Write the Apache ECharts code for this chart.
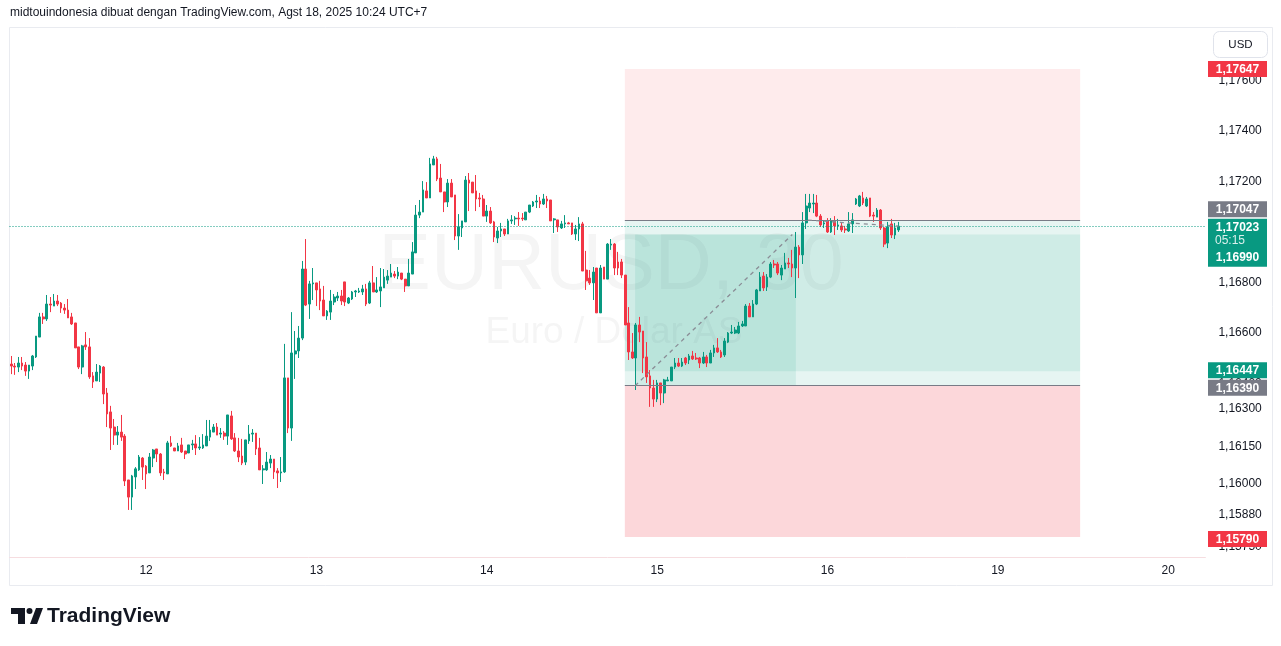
<!DOCTYPE html>
<html><head><meta charset="utf-8">
<script src="https://cdn.jsdelivr.net/npm/echarts@6/dist/echarts.min.js"></script>
<style>html,body{margin:0;padding:0;background:#fff;}#c{width:1281px;height:646px;}</style>
</head><body><div id="c"></div>
<script>
// ---------- data (EURUSD 30m) ----------
const opens = [1.16476,1.16468,1.16464,1.16480,1.16472,1.16448,1.16468,1.16504,1.16583,1.16663,1.16655,1.16714,1.16706,1.16726,1.16718,1.16698,1.16690,1.16663,1.16639,1.16544,1.16464,1.16552,1.16544,1.16429,1.16409,1.16440,1.16464,1.16361,1.16286,1.16226,1.16194,1.16206,1.16190,1.16016,1.15948,1.16028,1.16056,1.16103,1.16071,1.16044,1.16103,1.16139,1.16119,1.16048,1.16040,1.16163,1.16143,1.16131,1.16155,1.16131,1.16123,1.16155,1.16159,1.16143,1.16143,1.16151,1.16186,1.16206,1.16226,1.16198,1.16202,1.16190,1.16270,1.16183,1.16131,1.16111,1.16087,1.16171,1.16198,1.16202,1.16143,1.16056,1.16056,1.16083,1.16099,1.16052,1.16044,1.16048,1.16421,1.16222,1.16516,1.16528,1.16579,1.16853,1.16714,1.16794,1.16798,1.16774,1.16730,1.16667,1.16682,1.16722,1.16738,1.16746,1.16802,1.16718,1.16734,1.16762,1.16762,1.16762,1.16774,1.16718,1.16798,1.16762,1.16766,1.16778,1.16809,1.16821,1.16833,1.16825,1.16837,1.16813,1.16786,1.16833,1.16917,1.17067,1.17079,1.17163,1.17135,1.17266,1.17290,1.17214,1.17159,1.17119,1.17194,1.17147,1.16984,1.17016,1.17040,1.17206,1.17198,1.17163,1.17135,1.17131,1.17063,1.17083,1.17040,1.16976,1.17004,1.17012,1.16992,1.17044,1.17052,1.17055,1.17055,1.17048,1.17079,1.17103,1.17119,1.17123,1.17111,1.17131,1.17127,1.17048,1.17048,1.17016,1.17032,1.17036,1.17036,1.16992,1.17012,1.17032,1.16849,1.16817,1.16798,1.16857,1.16679,1.16861,1.16813,1.16948,1.16952,1.16881,1.16881,1.16829,1.16639,1.16524,1.16500,1.16631,1.16607,1.16504,1.16429,1.16381,1.16337,1.16401,1.16361,1.16409,1.16409,1.16464,1.16480,1.16468,1.16500,1.16492,1.16508,1.16500,1.16500,1.16480,1.16504,1.16480,1.16520,1.16540,1.16524,1.16512,1.16563,1.16599,1.16599,1.16599,1.16627,1.16627,1.16706,1.16663,1.16714,1.16766,1.16825,1.16782,1.16821,1.16873,1.16873,1.16829,1.16853,1.16877,1.16873,1.16857,1.16940,1.16909,1.17036,1.17095,1.17111,1.17115,1.17063,1.17032,1.17044,1.17000,1.17044,1.17024,1.17024,1.17012,1.17004,1.17032,1.17111,1.17103,1.17135,1.17103,1.17135,1.17067,1.17059,1.17087,1.17016,1.16956,1.17032,1.16988,1.17008];
const closes = [1.16468,1.16464,1.16480,1.16468,1.16448,1.16472,1.16508,1.16587,1.16663,1.16655,1.16714,1.16710,1.16726,1.16714,1.16698,1.16690,1.16659,1.16635,1.16540,1.16464,1.16548,1.16544,1.16425,1.16405,1.16444,1.16468,1.16357,1.16278,1.16222,1.16194,1.16206,1.16186,1.16012,1.15948,1.16032,1.16060,1.16107,1.16067,1.16040,1.16107,1.16135,1.16119,1.16044,1.16044,1.16163,1.16151,1.16131,1.16151,1.16127,1.16119,1.16155,1.16159,1.16143,1.16147,1.16155,1.16190,1.16214,1.16226,1.16194,1.16202,1.16190,1.16274,1.16179,1.16131,1.16107,1.16083,1.16175,1.16198,1.16202,1.16139,1.16056,1.16060,1.16087,1.16099,1.16048,1.16044,1.16048,1.16421,1.16222,1.16520,1.16528,1.16579,1.16853,1.16710,1.16794,1.16798,1.16770,1.16726,1.16667,1.16686,1.16726,1.16742,1.16746,1.16726,1.16722,1.16738,1.16762,1.16766,1.16766,1.16774,1.16714,1.16798,1.16762,1.16770,1.16782,1.16821,1.16825,1.16837,1.16825,1.16841,1.16813,1.16786,1.16837,1.16921,1.17067,1.17079,1.17167,1.17135,1.17270,1.17290,1.17210,1.17159,1.17119,1.17194,1.17139,1.16984,1.17020,1.17044,1.17206,1.17194,1.17155,1.17131,1.17131,1.17063,1.17083,1.17036,1.16980,1.17004,1.17012,1.16992,1.17044,1.17048,1.17055,1.17052,1.17052,1.17079,1.17107,1.17119,1.17123,1.17111,1.17131,1.17123,1.17044,1.17052,1.17020,1.17032,1.17036,1.17032,1.16992,1.17012,1.17032,1.16845,1.16806,1.16798,1.16841,1.16679,1.16857,1.16813,1.16952,1.16952,1.16857,1.16857,1.16829,1.16631,1.16524,1.16500,1.16631,1.16603,1.16500,1.16425,1.16381,1.16337,1.16401,1.16361,1.16413,1.16413,1.16464,1.16480,1.16468,1.16484,1.16480,1.16508,1.16496,1.16496,1.16480,1.16504,1.16480,1.16520,1.16540,1.16524,1.16504,1.16567,1.16599,1.16603,1.16611,1.16627,1.16635,1.16706,1.16663,1.16714,1.16770,1.16821,1.16778,1.16821,1.16873,1.16869,1.16837,1.16857,1.16877,1.16873,1.16857,1.16940,1.16909,1.17036,1.17103,1.17115,1.17115,1.17063,1.17028,1.17036,1.17000,1.17044,1.17024,1.17028,1.17008,1.17008,1.17032,1.17048,1.17131,1.17143,1.17115,1.17131,1.17063,1.17063,1.17087,1.17016,1.16952,1.17020,1.16988,1.17016,1.17023];
const highs = [1.16508,1.16480,1.16504,1.16504,1.16484,1.16472,1.16512,1.16587,1.16679,1.16679,1.16750,1.16742,1.16754,1.16750,1.16722,1.16714,1.16734,1.16679,1.16639,1.16544,1.16552,1.16603,1.16579,1.16444,1.16476,1.16472,1.16468,1.16381,1.16310,1.16258,1.16230,1.16274,1.16198,1.16016,1.16036,1.16067,1.16115,1.16107,1.16075,1.16123,1.16139,1.16139,1.16123,1.16060,1.16171,1.16190,1.16143,1.16163,1.16183,1.16131,1.16155,1.16175,1.16194,1.16186,1.16198,1.16254,1.16254,1.16238,1.16242,1.16222,1.16210,1.16274,1.16290,1.16202,1.16183,1.16179,1.16175,1.16234,1.16218,1.16202,1.16183,1.16075,1.16127,1.16115,1.16099,1.16063,1.16107,1.16556,1.16421,1.16682,1.16607,1.16627,1.16885,1.16972,1.16806,1.16857,1.16798,1.16806,1.16786,1.16690,1.16770,1.16754,1.16762,1.16770,1.16802,1.16742,1.16766,1.16770,1.16778,1.16790,1.16794,1.16806,1.16865,1.16821,1.16857,1.16853,1.16849,1.16873,1.16845,1.16861,1.16837,1.16813,1.16893,1.16960,1.17107,1.17127,1.17202,1.17198,1.17294,1.17302,1.17298,1.17270,1.17159,1.17210,1.17210,1.17147,1.17071,1.17044,1.17222,1.17234,1.17198,1.17226,1.17155,1.17147,1.17107,1.17099,1.17044,1.17020,1.17036,1.17012,1.17052,1.17067,1.17063,1.17079,1.17075,1.17079,1.17107,1.17123,1.17147,1.17139,1.17151,1.17143,1.17127,1.17055,1.17048,1.17044,1.17067,1.17040,1.17036,1.17028,1.17059,1.17040,1.16925,1.16849,1.16861,1.16857,1.16869,1.16861,1.16956,1.16972,1.16956,1.16921,1.16893,1.16829,1.16702,1.16599,1.16639,1.16663,1.16607,1.16563,1.16452,1.16413,1.16413,1.16401,1.16417,1.16425,1.16464,1.16500,1.16500,1.16500,1.16504,1.16516,1.16528,1.16520,1.16504,1.16524,1.16512,1.16532,1.16552,1.16579,1.16532,1.16579,1.16603,1.16631,1.16623,1.16643,1.16647,1.16714,1.16718,1.16730,1.16774,1.16841,1.16841,1.16833,1.16881,1.16889,1.16881,1.16869,1.16917,1.16897,1.16929,1.17000,1.16948,1.17079,1.17151,1.17151,1.17151,1.17147,1.17071,1.17044,1.17055,1.17055,1.17063,1.17052,1.17036,1.17024,1.17079,1.17075,1.17135,1.17147,1.17159,1.17139,1.17135,1.17079,1.17095,1.17091,1.17020,1.17040,1.17052,1.17036,1.17040];
const lows = [1.16436,1.16433,1.16444,1.16452,1.16429,1.16417,1.16452,1.16500,1.16583,1.16635,1.16647,1.16682,1.16706,1.16706,1.16679,1.16675,1.16659,1.16631,1.16540,1.16456,1.16436,1.16532,1.16417,1.16381,1.16409,1.16405,1.16317,1.16226,1.16135,1.16155,1.16155,1.16171,1.15992,1.15897,1.15897,1.15980,1.16052,1.16016,1.15980,1.16044,1.16067,1.16087,1.16032,1.16016,1.16040,1.16147,1.16131,1.16131,1.16123,1.16099,1.16123,1.16135,1.16115,1.16135,1.16139,1.16151,1.16171,1.16206,1.16194,1.16183,1.16175,1.16155,1.16175,1.16127,1.16087,1.16075,1.16075,1.16159,1.16167,1.16115,1.16056,1.16000,1.16052,1.16063,1.16020,1.15984,1.16008,1.16044,1.16202,1.16171,1.16417,1.16500,1.16571,1.16706,1.16655,1.16730,1.16706,1.16690,1.16667,1.16651,1.16651,1.16710,1.16726,1.16710,1.16706,1.16714,1.16730,1.16742,1.16758,1.16750,1.16706,1.16714,1.16762,1.16758,1.16702,1.16778,1.16794,1.16821,1.16817,1.16813,1.16809,1.16762,1.16786,1.16833,1.16917,1.17055,1.17079,1.17135,1.17135,1.17266,1.17202,1.17159,1.17079,1.17099,1.17139,1.16968,1.16929,1.16980,1.17040,1.17083,1.17155,1.17083,1.17099,1.17063,1.17040,1.17032,1.16960,1.16956,1.16980,1.16984,1.16992,1.17032,1.17028,1.17024,1.17044,1.17048,1.17075,1.17099,1.17095,1.17095,1.17107,1.17095,1.17044,1.16996,1.17000,1.17012,1.17016,1.17032,1.16988,1.16968,1.16964,1.16845,1.16770,1.16790,1.16730,1.16679,1.16679,1.16813,1.16813,1.16929,1.16829,1.16829,1.16817,1.16631,1.16492,1.16496,1.16373,1.16563,1.16440,1.16401,1.16306,1.16306,1.16325,1.16313,1.16321,1.16409,1.16409,1.16456,1.16464,1.16464,1.16472,1.16476,1.16492,1.16492,1.16460,1.16476,1.16464,1.16480,1.16504,1.16520,1.16500,1.16504,1.16559,1.16595,1.16595,1.16595,1.16623,1.16627,1.16663,1.16663,1.16710,1.16766,1.16766,1.16766,1.16817,1.16857,1.16829,1.16809,1.16853,1.16857,1.16821,1.16738,1.16817,1.16873,1.17012,1.17079,1.17075,1.17059,1.17020,1.17016,1.16996,1.16996,1.16988,1.17008,1.17000,1.16996,1.17000,1.16996,1.17107,1.17099,1.17107,1.17099,1.17059,1.17040,1.17059,1.17008,1.16940,1.16936,1.16976,1.16972,1.17000];

const slotCount = 337;                       // 30-minute slots on the time axis (incl. future space)
const timeLabelIndex = [38, 86, 134, 182, 230, 278, 326];
const timeLabelText  = ['12', '13', '14', '15', '16', '19', '20'];
const priceTicks = [1.1575, 1.1588, 1.16, 1.1615, 1.163, 1.164, 1.166, 1.168, 1.17, 1.172, 1.174, 1.176];
const currentPrice = 1.17023;
const countdown = '05:15';
// position tools (short + long)
const shortEntry = 1.17047, shortStop = 1.17647, shortTarget = 1.16447;
const longEntry = 1.16390, longStop = 1.15790, longTarget = 1.16990;
const toolStart = 172.9, toolEnd = 301.2;     // in 30-min slot units
const longHitStart = 175.8, longHitEnd = 221.1;
const shortHitStart = 224.5, shortHitEnd = 250;

// ---------- chart ----------
const UP = '#089981', DOWN = '#f23645', GREY = '#787b86', TXT = '#131722';
const FONT = '"Liberation Sans", Arial, sans-serif';
const chart = echarts.init(document.getElementById('c'), null, {renderer: 'canvas'});
const fmt = v => v.toFixed(5).replace('.', ',');

const candleData = opens.map((o, i) => [o, closes[i], lows[i], highs[i]]);

const option = {
  animation: false,
  backgroundColor: '#ffffff',
  textStyle: {fontFamily: FONT},
  grid: {left: 9.5, top: 27, width: 1195.9, height: 530, containLabel: false},
  xAxis: [{
    type: 'category',
    data: Array.from({length: slotCount}, (_, i) => i),
    boundaryGap: true,
    axisLine: {show: true, lineStyle: {color: '#f6dde0', width: 1}},
    axisTick: {show: false},
    splitLine: {show: false},
    axisLabel: {
      interval: (idx) => timeLabelIndex.indexOf(idx) >= 0,
      formatter: (v, idx) => { const k = timeLabelIndex.indexOf(idx); return k >= 0 ? timeLabelText[k] : ''; },
      color: TXT, fontSize: 12, margin: 8, fontFamily: FONT
    }
  }, {
    type: 'value', min: -0.5, max: slotCount - 0.5, show: false
  }],
  yAxis: {
    type: 'value', position: 'right', scale: true,
    min: 1.157103, max: 1.178134,
    axisLine: {show: false}, axisTick: {show: false}, splitLine: {show: false},
    axisLabel: {customValues: priceTicks, formatter: fmt, color: TXT, fontSize: 12, margin: 13, fontFamily: FONT, showMinLabel: true, showMaxLabel: true}
  },
  series: [{
    type: 'line', xAxisIndex: 1, yAxisIndex: 0, data: [], z: 1, silent: true, showSymbol: false,
    markArea: {
      silent: true,
      data: [
        [{xAxis: toolStart, yAxis: shortStop, itemStyle: {color: 'rgba(242,54,69,0.10)'}}, {xAxis: toolEnd, yAxis: shortEntry}],
        [{xAxis: toolStart, yAxis: shortEntry, itemStyle: {color: 'rgba(8,153,129,0.10)'}}, {xAxis: toolEnd, yAxis: shortTarget}],
        [{xAxis: toolStart, yAxis: longTarget, itemStyle: {color: 'rgba(8,153,129,0.10)'}}, {xAxis: toolEnd, yAxis: longEntry}],
        [{xAxis: longHitStart, yAxis: longTarget, itemStyle: {color: 'rgba(8,153,129,0.10)'}}, {xAxis: longHitEnd, yAxis: longEntry}],
        [{xAxis: toolStart, yAxis: longEntry, itemStyle: {color: 'rgba(242,54,69,0.20)'}}, {xAxis: toolEnd, yAxis: longStop}]
      ]
    },
    markLine: {
      silent: true, symbol: ['none', 'none'], label: {show: false}, precision: 5,
      data: [
        {yAxis: currentPrice, lineStyle: {color: UP, type: [1, 2], width: 1}},
        [{coord: [toolStart, shortEntry], lineStyle: {color: GREY, type: 'solid', width: 1}}, {coord: [toolEnd, shortEntry]}],
        [{coord: [toolStart, longEntry], lineStyle: {color: GREY, type: 'solid', width: 1}}, {coord: [toolEnd, longEntry]}],
        [{coord: [longHitStart, longEntry], lineStyle: {color: '#8a8d96', type: [4, 4], width: 1.3}}, {coord: [longHitEnd - 1, longTarget]}],
        [{coord: [shortHitStart, shortEntry], lineStyle: {color: '#8a8d96', type: [4, 4], width: 1.3}}, {coord: [shortHitEnd, currentPrice]}]
      ]
    }
  }, {
    type: 'candlestick', xAxisIndex: 0, yAxisIndex: 0, z: 3,
    data: candleData, barWidth: 2.2,
    itemStyle: {color: UP, color0: DOWN, borderColor: UP, borderColor0: DOWN, borderWidth: 1}
  }]
};
chart.setOption(option);

// ---------- decorations: header, frame, watermark, price tags, logo ----------
const yPix = p => chart.convertToPixel({yAxisIndex: 0}, p);
const g = [];
g.push({type: 'text', left: 10, top: 7, z: 50, style: {text: 'midtouindonesia dibuat dengan TradingView.com, Agst 18, 2025 10:24 UTC+7', fill: TXT, font: '12px ' + FONT}});
g.push({type: 'rect', shape: {x: 9.5, y: 27.5, width: 1263, height: 558}, style: {fill: 'none', stroke: '#e9ebf0', lineWidth: 1}, z: 0, silent: true});
// watermark
g.push({type: 'text', x: 611, y: 267, z: 0, style: {text: 'EURUSD, 30', fill: 'rgba(19,23,34,0.045)', font: '79px ' + FONT, textAlign: 'center', textVerticalAlign: 'middle'}});
g.push({type: 'text', x: 614, y: 333, z: 0, style: {text: 'Euro / Dolar AS', fill: 'rgba(19,23,34,0.045)', font: '37px ' + FONT, textAlign: 'center', textVerticalAlign: 'middle'}});
// USD button
g.push({type: 'rect', shape: {x: 1213.5, y: 31.5, width: 54, height: 26, r: 6}, style: {fill: '#fff', stroke: '#e0e3eb', lineWidth: 1}, z: 60});
g.push({type: 'text', x: 1240.5, y: 44.5, z: 61, style: {text: 'USD', fill: TXT, font: '11.5px ' + FONT, textAlign: 'center', textVerticalAlign: 'middle'}});
// price tags
const tags = [
  {price: shortStop, shift: 0, color: DOWN},
  {price: shortEntry, shift: -11, color: GREY},
  {price: shortTarget, shift: -1, color: UP},
  {price: longEntry, shift: 2, color: GREY},
  {price: longStop, shift: 2, color: DOWN}
];
tags.forEach(t => {
  const yc = yPix(t.price) + t.shift;
  g.push({type: 'rect', shape: {x: 1208, y: yc - 8, width: 59, height: 16}, style: {fill: t.color}, z: 100});
  g.push({type: 'text', x: 1237.5, y: yc + 0.5, z: 101, style: {text: fmt(t.price), fill: '#fff', font: 'bold 12px ' + FONT, textAlign: 'center', textVerticalAlign: 'middle'}});
});
const cy = yPix(currentPrice);
const top0 = cy - 7.5;
g.push({type: 'rect', shape: {x: 1208, y: top0, width: 59, height: 48}, style: {fill: UP}, z: 100});
g.push({type: 'text', x: 1237.5, y: top0 + 8.5, z: 101, style: {text: fmt(currentPrice), fill: '#fff', font: 'bold 12px ' + FONT, textAlign: 'center', textVerticalAlign: 'middle'}});
g.push({type: 'text', x: 1230, y: top0 + 21.5, z: 101, style: {text: countdown, fill: 'rgba(255,255,255,0.85)', font: '12px ' + FONT, textAlign: 'center', textVerticalAlign: 'middle'}});
g.push({type: 'text', x: 1237.5, y: top0 + 39, z: 101, style: {text: fmt(longTarget), fill: '#fff', font: 'bold 12px ' + FONT, textAlign: 'center', textVerticalAlign: 'middle'}});
// TradingView logo
g.push({type: 'rect', shape: {x: 11, y: 608, width: 14, height: 6}, style: {fill: TXT}, z: 50});
g.push({type: 'rect', shape: {x: 18, y: 608, width: 7, height: 16}, style: {fill: TXT}, z: 50});
g.push({type: 'circle', shape: {cx: 29.5, cy: 611, r: 3}, style: {fill: TXT}, z: 50});
g.push({type: 'polygon', shape: {points: [[30, 624], [37, 624], [43, 608], [36, 608]]}, style: {fill: TXT}, z: 50});
g.push({type: 'text', x: 47, y: 616.5, z: 50, style: {text: 'TradingView', fill: TXT, font: 'bold 21px ' + FONT, textVerticalAlign: 'middle'}});
chart.setOption({graphic: g});
</script>
</body></html>
